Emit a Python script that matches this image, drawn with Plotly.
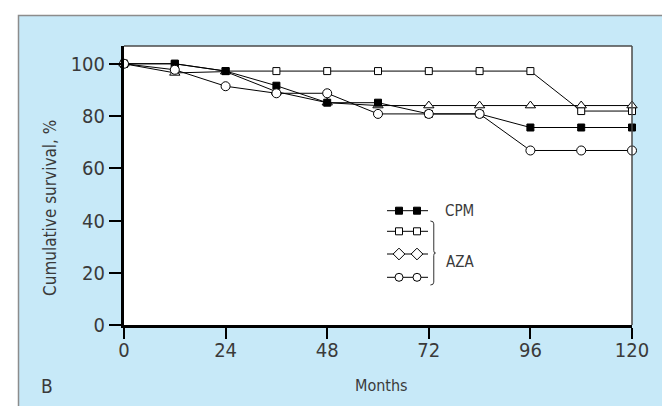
import plotly.graph_objects as go

# ---------------- data ----------------
months = [0, 12, 24, 36, 48, 60, 72, 84, 96, 108, 120]
cpm = [100, 100, 97.2, 91.6, 85.1, 85.1, 80.8, 80.8, 75.6, 75.6, 75.6]
aza_square = [100, 100, 97.2, 97.2, 97.2, 97.2, 97.2, 97.2, 97.2, 81.9, 81.9]
aza_triangle = [100, 96.5, 97.0, 89.3, 85.1, 84.0, 84.0, 84.0, 84.0, 84.0, 84.0]
aza_circle = [100, 97.7, 91.4, 88.7, 88.7, 80.8, 80.8, 80.8, 66.8, 66.8, 66.8]

x_ticks = [0, 24, 48, 72, 96, 120]
y_ticks = [0, 20, 40, 60, 80, 100]

legend_labels = ["CPM", "AZA"]

# ---------------- layout constants ----------------
W, H = 670, 406
L, R, T, B = 116, 46, 38, 89
PW, PH = W - L - R, H - T - B
X_MAX = 120
Y_MAX = 106.8

FONT = "DejaVu Sans Condensed, Liberation Sans Narrow, sans-serif"
TXT = "#3a3a3a"
PANEL = "#c7e9f8"


def px(xp):
    return (xp - L) / PW


def py(yp):
    return (H - B - yp) / PH


def dx(xp):
    return (xp - L) / PW * X_MAX


def dy(yp):
    return (H - B - yp) / PH * Y_MAX


fig = go.Figure()

line = dict(color="black", width=1)


def series(y, symbol, fill, size):
    fig.add_trace(go.Scatter(
        x=months, y=y, mode="lines+markers", line=line,
        marker=dict(symbol=symbol, size=size, color=fill,
                    line=dict(color="black", width=1)),
        showlegend=False, cliponaxis=False))


series(aza_square, "square", "white", 7)
series(aza_triangle, "triangle-up", "white", 9)
series(cpm, "square", "black", 7)
series(aza_circle, "circle", "white", 9)

# ---------------- custom legend ----------------
leg_x0, leg_x1 = dx(379), dx(420)
leg_m = [dx(391), dx(409)]
rows = [(202.7, "square", "black", 7), (223.3, "square", "white", 7),
        (246.0, "diamond", "white", 9), (269.3, "circle", "white", 8)]
for yp, sym, fill, sz in rows:
    yy = dy(yp)
    fig.add_trace(go.Scatter(x=[leg_x0, leg_x1], y=[yy, yy], mode="lines",
                             line=line, showlegend=False, hoverinfo="skip",
                             cliponaxis=False))
    fig.add_trace(go.Scatter(x=leg_m, y=[yy, yy], mode="markers",
                             marker=dict(symbol=sym, size=sz, color=fill,
                                         line=dict(color="black", width=1)),
                             showlegend=False, hoverinfo="skip", cliponaxis=False))

# brace
bx = dx(424.5)
bxi = dx(427.5)
bt, bm, bb = dy(213), dy(245), dy(277)
d = 0.9
brace = (f"M {bx-0.5},{bt} Q {bx+0.3},{bt} {bx+0.3},{bt-d*1.2} "
         f"L {bx+0.3},{bm+d} Q {bx+0.3},{bm} {bxi},{bm} "
         f"Q {bx+0.3},{bm} {bx+0.3},{bm-d} "
         f"L {bx+0.3},{bb+d*1.2} Q {bx+0.3},{bb} {bx-0.5},{bb}")

shapes = [
    dict(type="rect", xref="paper", yref="paper", x0=px(10.5), x1=px(668.5),
         y0=py(420), y1=py(7.5), fillcolor=PANEL,
         line=dict(color="#8c8c8c", width=1.5), layer="below"),
    dict(type="rect", xref="paper", yref="paper", x0=0, x1=1, y0=0, y1=1,
         fillcolor="white", line=dict(width=0), layer="below"),
    dict(type="line", xref="paper", yref="paper", x0=0, x1=1, y0=1, y1=1,
         line=dict(color="#4a4a4a", width=1.5)),
    dict(type="line", xref="paper", yref="paper", x0=1, x1=1, y0=0, y1=1,
         line=dict(color="#4a4a4a", width=1.5)),
    dict(type="path", xref="x", yref="y", path=brace,
         line=dict(color="#333333", width=1)),
]

annotations = [
    dict(text=legend_labels[0], x=px(435), y=py(203), xref="paper", yref="paper",
         xanchor="left", yanchor="middle", showarrow=False,
         font=dict(family=FONT, size=15, color=TXT)),
    dict(text=legend_labels[1], x=px(436), y=py(254), xref="paper", yref="paper",
         xanchor="left", yanchor="middle", showarrow=False,
         font=dict(family=FONT, size=15, color=TXT)),
    dict(text="Cumulative survival, %", x=px(42), y=py(200), xref="paper",
         yref="paper", textangle=-90, showarrow=False, xanchor="center",
         yanchor="middle", font=dict(family=FONT, size=17, color=TXT)),
    dict(text="Months", x=px(373), y=py(377), xref="paper", yref="paper",
         showarrow=False, xanchor="center", yanchor="middle",
         font=dict(family=FONT, size=16, color=TXT)),
    dict(text="B", x=px(39), y=py(378), xref="paper", yref="paper",
         showarrow=False, xanchor="center", yanchor="middle",
         font=dict(family=FONT, size=19, color=TXT)),
]

axis_common = dict(showline=True, linecolor="black", linewidth=3,
                   ticks="outside", tickcolor="black", tickwidth=1.5,
                   showgrid=False, zeroline=False,
                   tickfont=dict(family=FONT, size=20, color=TXT))

fig.update_layout(
    width=W, height=H,
    margin=dict(l=L, r=R, t=T, b=B, pad=0),
    paper_bgcolor="white", plot_bgcolor="rgba(0,0,0,0)",
    xaxis=dict(range=[0, X_MAX], tickvals=x_ticks, ticklen=11,
               ticklabelstandoff=-6, **axis_common),
    yaxis=dict(range=[0, Y_MAX], tickvals=y_ticks, ticklen=12, **axis_common),
    shapes=shapes, annotations=annotations,
)

fig.write_html("out.html")
